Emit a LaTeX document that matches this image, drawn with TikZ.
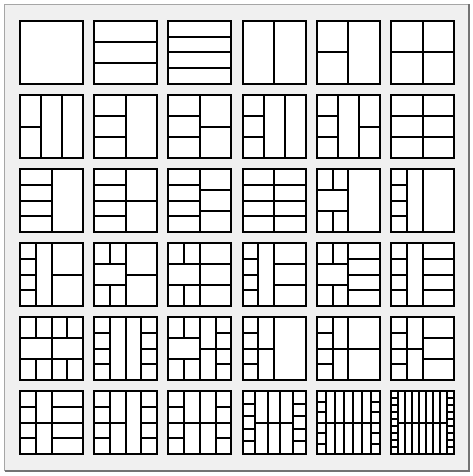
\documentclass[tikz,border=0pt]{standalone}
\begin{document}
\begin{tikzpicture}[x=1pt,y=-1pt,
  grid/.style={line width=2pt,black},
  frame/.style={draw=black!35,fill=black!6,line width=1pt},
  shadow/.style={draw=black!55,line width=1.5pt}]
\useasboundingbox (0,0) rectangle (472,476);
\fill[white] (0,0) rectangle (472,476);
\draw[frame] (4.5,4.5) rectangle (468.5,470.5);
\draw[shadow] (4.5,471) -- (469,471) -- (469,4.5);
\newcommand\T[3]{\begin{scope}[shift={({20+74.2*#1},{21+74*#2})},x=63pt,y=-63pt]
 \fill[white] (0,0) rectangle (1,1);
 \draw[grid] #3;
 \draw[grid] (0,0) rectangle (1,1);
\end{scope}}
% row 1
\T{0}{0}{}
\T{1}{0}{(0,.3333)--(1,.3333) (0,.6667)--(1,.6667)}
\T{2}{0}{(0,.25)--(1,.25) (0,.5)--(1,.5) (0,.75)--(1,.75)}
\T{3}{0}{(.5,0)--(.5,1)}
\T{4}{0}{(.5,0)--(.5,1) (0,.5)--(.5,.5)}
\T{5}{0}{(.5,0)--(.5,1) (0,.5)--(1,.5)}
% row 2
\T{0}{1}{(.3333,0)--(.3333,1) (.6667,0)--(.6667,1) (0,.5)--(.3333,.5)}
\T{1}{1}{(.5,0)--(.5,1) (0,.3333)--(.5,.3333) (0,.6667)--(.5,.6667)}
\T{2}{1}{(.5,0)--(.5,1) (0,.3333)--(.5,.3333) (0,.6667)--(.5,.6667) (.5,.5)--(1,.5)}
\T{3}{1}{(.3333,0)--(.3333,1) (.6667,0)--(.6667,1) (0,.3333)--(.3333,.3333) (0,.6667)--(.3333,.6667)}
\T{4}{1}{(.3333,0)--(.3333,1) (.6667,0)--(.6667,1) (0,.3333)--(.3333,.3333) (0,.6667)--(.3333,.6667) (.6667,.5)--(1,.5)}
\T{5}{1}{(.5,0)--(.5,1) (0,.3333)--(1,.3333) (0,.6667)--(1,.6667)}
% row 3
\T{0}{2}{(.5,0)--(.5,1) (0,.25)--(.5,.25) (0,.5)--(.5,.5) (0,.75)--(.5,.75)}
\T{1}{2}{(.5,0)--(.5,1) (0,.25)--(.5,.25) (0,.5)--(1,.5) (0,.75)--(.5,.75)}
\T{2}{2}{(.5,0)--(.5,1) (0,.25)--(.5,.25) (0,.5)--(.5,.5) (0,.75)--(.5,.75) (.5,.3333)--(1,.3333) (.5,.6667)--(1,.6667)}
\T{3}{2}{(.5,0)--(.5,1) (0,.25)--(1,.25) (0,.5)--(1,.5) (0,.75)--(1,.75)}
\T{4}{2}{(.5,0)--(.5,1) (0,.3333)--(.5,.3333) (0,.6667)--(.5,.6667) (.25,0)--(.25,.3333) (.25,.6667)--(.25,1)}
\T{5}{2}{(.25,0)--(.25,1) (.5,0)--(.5,1) (0,.25)--(.25,.25) (0,.5)--(.25,.5) (0,.75)--(.25,.75)}
% row 4
\T{0}{3}{(.25,0)--(.25,1) (.5,0)--(.5,1) (0,.25)--(.25,.25) (0,.5)--(.25,.5) (0,.75)--(.25,.75) (.5,.5)--(1,.5)}
\T{1}{3}{(.5,0)--(.5,1) (0,.3333)--(.5,.3333) (0,.6667)--(.5,.6667) (.25,0)--(.25,.3333) (.25,.6667)--(.25,1) (.5,.5)--(1,.5)}
\T{2}{3}{(.5,0)--(.5,1) (0,.3333)--(1,.3333) (0,.6667)--(1,.6667) (.25,0)--(.25,.3333) (.25,.6667)--(.25,1)}
\T{3}{3}{(.25,0)--(.25,1) (.5,0)--(.5,1) (0,.25)--(.25,.25) (0,.5)--(.25,.5) (0,.75)--(.25,.75) (.5,.3333)--(1,.3333) (.5,.6667)--(1,.6667)}
\T{4}{3}{(.5,0)--(.5,1) (0,.3333)--(.5,.3333) (0,.6667)--(.5,.6667) (.25,0)--(.25,.3333) (.25,.6667)--(.25,1) (.5,.25)--(1,.25) (.5,.5)--(1,.5) (.5,.75)--(1,.75)}
\T{5}{3}{(.25,0)--(.25,1) (.5,0)--(.5,1) (0,.25)--(.25,.25) (0,.5)--(.25,.5) (0,.75)--(.25,.75) (.5,.25)--(1,.25) (.5,.5)--(1,.5) (.5,.75)--(1,.75)}
% row 5
\T{0}{4}{(0,.3333)--(1,.3333) (0,.6667)--(1,.6667) (.5,0)--(.5,1) (.25,0)--(.25,.3333) (.75,0)--(.75,.3333) (.25,.6667)--(.25,1) (.75,.6667)--(.75,1)}
\T{1}{4}{(.25,0)--(.25,1) (.5,0)--(.5,1) (.75,0)--(.75,1) (0,.25)--(.25,.25) (0,.5)--(.25,.5) (0,.75)--(.25,.75) (.75,.25)--(1,.25) (.75,.5)--(1,.5) (.75,.75)--(1,.75)}
\T{2}{4}{(.5,0)--(.5,1) (.75,0)--(.75,1) (0,.3333)--(.5,.3333) (0,.6667)--(.5,.6667) (.25,0)--(.25,.3333) (.25,.6667)--(.25,1) (.5,.5)--(1,.5) (.75,.25)--(1,.25) (.75,.75)--(1,.75)}
\T{3}{4}{(.25,0)--(.25,1) (.5,0)--(.5,1) (0,.25)--(.25,.25) (0,.5)--(.5,.5) (0,.75)--(.25,.75)}
\T{4}{4}{(.25,0)--(.25,1) (.5,0)--(.5,1) (0,.25)--(.25,.25) (0,.5)--(1,.5) (0,.75)--(.25,.75)}
\T{5}{4}{(.25,0)--(.25,1) (.5,0)--(.5,1) (0,.25)--(.25,.25) (0,.5)--(.5,.5) (0,.75)--(.25,.75) (.5,.3333)--(1,.3333) (.5,.6667)--(1,.6667)}
% row 6
\T{0}{5}{(.25,0)--(.25,1) (.5,0)--(.5,1) (0,.5)--(1,.5) (0,.25)--(.25,.25) (0,.75)--(.25,.75) (.5,.25)--(1,.25) (.5,.75)--(1,.75)}
\T{1}{5}{(.25,0)--(.25,1) (.5,0)--(.5,1) (.75,0)--(.75,1) (0,.25)--(.25,.25) (0,.5)--(.5,.5) (0,.75)--(.25,.75) (.75,.25)--(1,.25) (.75,.5)--(1,.5) (.75,.75)--(1,.75)}
\T{2}{5}{(.25,0)--(.25,1) (.5,0)--(.5,1) (.75,0)--(.75,1) (0,.5)--(1,.5) (0,.25)--(.25,.25) (0,.75)--(.25,.75) (.75,.25)--(1,.25) (.75,.75)--(1,.75)}
\T{3}{5}{(.2,0)--(.2,1) (.4,0)--(.4,1) (.6,0)--(.6,1) (.8,0)--(.8,1) (.2,.5)--(.8,.5)
  (0,.2)--(.2,.2) (0,.4)--(.2,.4) (0,.6)--(.2,.6) (0,.8)--(.2,.8)
  (.8,.2)--(1,.2) (.8,.4)--(1,.4) (.8,.6)--(1,.6) (.8,.8)--(1,.8)}
\T{4}{5}{\foreach \k in {1,...,6}{(\k/7,0)--(\k/7,1)} (1/7,.5)--(6/7,.5)
  \foreach \k in {1,...,5}{(0,\k/6)--(1/7,\k/6) (6/7,\k/6)--(1,\k/6)}}
\T{5}{5}{\foreach \k in {1,...,8}{(\k/9,0)--(\k/9,1)} (1/9,.5)--(8/9,.5)
  \foreach \k in {1,...,8}{(0,\k/9)--(1/9,\k/9) (8/9,\k/9)--(1,\k/9)}}
\end{tikzpicture}
\end{document}
